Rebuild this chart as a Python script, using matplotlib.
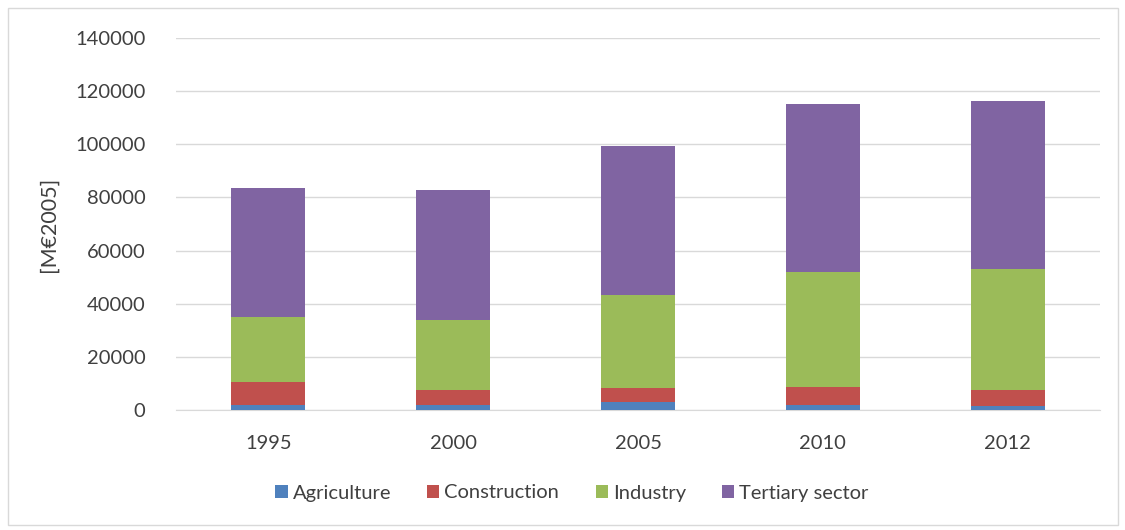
import numpy as np
import matplotlib.pyplot as plt
from matplotlib.patches import Rectangle

plt.rcParams['font.family'] = ['Lato', 'DejaVu Sans']

years = ['1995', '2000', '2005', '2010', '2012']
agriculture = [1900, 1700, 3000, 1800, 1500]
construction = [8800, 5800, 5300, 6800, 6000]
industry = [24300, 26300, 35000, 43400, 45500]
tertiary = [48500, 48900, 56000, 63000, 63200]

colors = ['#4F81BD', '#C0504D', '#9BBB59', '#8064A2']
labels = ['Agriculture', 'Construction', 'Industry', 'Tertiary sector']

fig = plt.figure(figsize=(11.25, 5.3), dpi=100)
ax = fig.add_axes([176 / 1125, 1 - 410 / 530, 924 / 1125, 372 / 530])

# light frame around the whole chart area
fig.patches.append(Rectangle((8 / 1125, 5 / 530), 1110 / 1125, 517 / 530,
                             transform=fig.transFigure, fill=False,
                             edgecolor='#D9D9D9', linewidth=1))

x = np.arange(len(years))
bottom = np.zeros(len(years))
for vals, c, lab in zip([agriculture, construction, industry, tertiary], colors, labels):
    ax.bar(x, vals, width=0.4, bottom=bottom, color=c, label=lab, zorder=3)
    bottom += np.array(vals)

ax.set_xlim(-0.5, len(years) - 0.5)
ax.set_ylim(0, 140000)
ax.set_yticks(range(0, 140001, 20000))
ax.set_xticks(x)
ax.set_xticklabels(years)
ax.grid(axis='y', color='#D9D9D9', linewidth=1, zorder=0)
for s in ['top', 'right', 'left']:
    ax.spines[s].set_visible(False)
ax.spines['bottom'].set_color('#D9D9D9')
ax.tick_params(length=0, labelsize=14.5, colors='#404040')
ax.tick_params(axis='x', pad=18)
ax.tick_params(axis='y', pad=22)
ax.set_ylabel('[M€2005]', fontsize=15.5, color='#404040', labelpad=12)

fig.legend(loc='center', bbox_to_anchor=(572 / 1125, 1 - 493 / 530), ncol=4,
           frameon=False, fontsize=14.5, handlelength=0.6, handleheight=0.6,
           handletextpad=0.25, columnspacing=1.8, labelcolor='#404040')

fig.savefig('out.png', dpi=100)
